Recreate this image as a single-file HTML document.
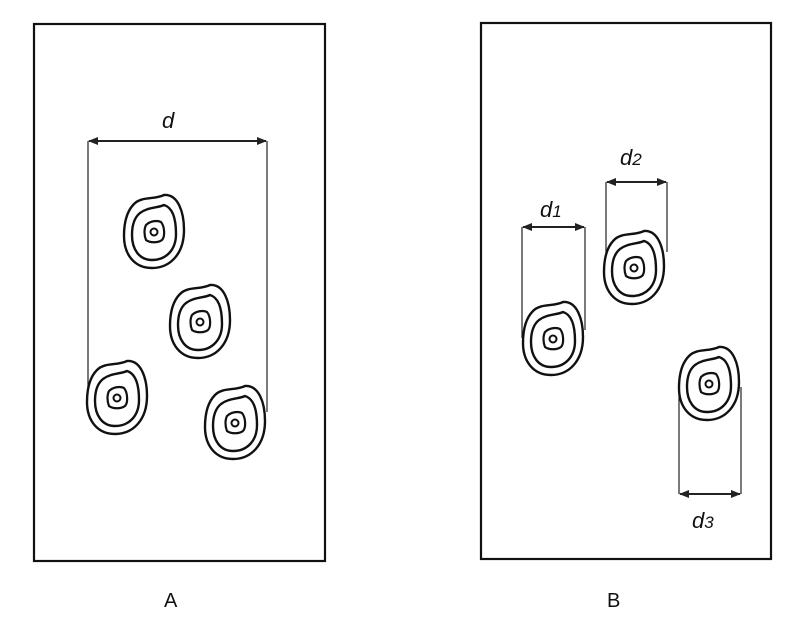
<!DOCTYPE html>
<html><head><meta charset="utf-8"><style>
html,body{margin:0;padding:0;background:#fff;}
svg{display:block}
text{font-family:"Liberation Sans",sans-serif;fill:#111}
</style></head><body>
<svg width="808" height="627" viewBox="0 0 808 627" xmlns="http://www.w3.org/2000/svg">
<defs>
<marker id="ar" markerWidth="10" markerHeight="8" refX="9" refY="4" orient="auto-start-reverse" markerUnits="userSpaceOnUse">
<path d="M0,0 L10,4 L0,8 Z" fill="#222"/>
</marker>
<g id="spot">
<path d="M-20,-28 C-12,-36 0,-32 10,-37 C24,-38 30,-20 30,-2 C30,22 16,36 -2,36 C-20,36 -30,22 -30,4 C-30,-12 -26,-22 -20,-28 Z" fill="#fff" stroke="#111" stroke-width="2.4"/>
<path d="M-14,-19 C-6,-25 4,-24 10,-27 C20,-24 22,-10 22,2 C22,18 12,28 -2,28 C-15,28 -22,17 -22,3 C-22,-8 -19,-15 -14,-19 Z" fill="none" stroke="#111" stroke-width="2.4"/>
<path d="M-8,-7 C-4,-11 3,-12 7,-10 C11,-5 11,5 8,8 C4,11 -4,11 -8,8 C-10,3 -10,-3 -8,-7 Z" fill="none" stroke="#111" stroke-width="2.2"/>
<circle cx="0" cy="0" r="3.5" fill="none" stroke="#111" stroke-width="2"/>
</g>
</defs>
<g fill="none" stroke="#111" stroke-width="2.2">
<rect x="34" y="24" width="291" height="537"/>
<rect x="481" y="23" width="290" height="536"/>
</g>
<g stroke="#222" stroke-width="1.2" fill="none">
<line x1="88" y1="141" x2="88" y2="392"/>
<line x1="267" y1="141" x2="267" y2="412"/>
<line x1="522" y1="227" x2="522" y2="338"/>
<line x1="585" y1="227" x2="585" y2="330"/>
<line x1="606" y1="182" x2="606" y2="262"/>
<line x1="667" y1="182" x2="667" y2="252"/>
<line x1="679" y1="494" x2="679" y2="395"/>
<line x1="741" y1="494" x2="741" y2="387"/>
</g>
<g stroke="#222" stroke-width="2" marker-start="url(#ar)" marker-end="url(#ar)">
<line x1="89" y1="141" x2="266" y2="141"/>
<line x1="523" y1="227" x2="584" y2="227"/>
<line x1="607" y1="182" x2="666" y2="182"/>
<line x1="680" y1="494" x2="740" y2="494"/>
</g>
<use href="#spot" x="154" y="232"/>
<use href="#spot" x="200" y="322"/>
<use href="#spot" x="117" y="398"/>
<use href="#spot" x="235" y="423"/>
<use href="#spot" x="553" y="339"/>
<use href="#spot" x="634" y="268"/>
<use href="#spot" x="709" y="384"/>
<text x="162" y="128" font-size="22" font-style="italic">d</text>
<text x="540" y="217" font-size="22" font-style="italic">d<tspan font-size="17">1</tspan></text>
<text x="620" y="165" font-size="22" font-style="italic">d<tspan font-size="17">2</tspan></text>
<text x="692" y="528" font-size="22" font-style="italic">d<tspan font-size="17">3</tspan></text>
<text x="164" y="607" font-size="20">A</text>
<text x="607" y="607" font-size="20">B</text>
</svg>
</body></html>
